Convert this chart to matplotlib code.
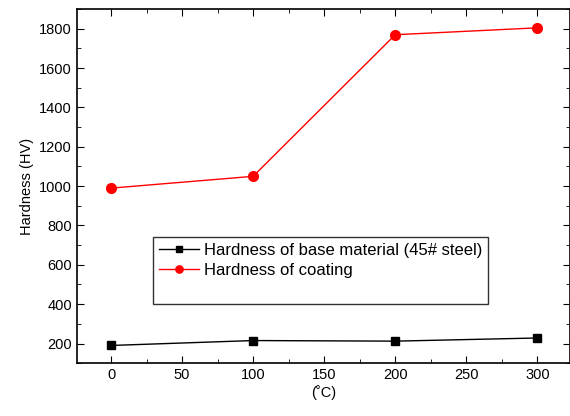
import matplotlib
matplotlib.use('Agg')
import matplotlib.pyplot as plt
from matplotlib.ticker import MultipleLocator

plt.rcParams['font.family'] = ['Liberation Sans', 'DejaVu Sans']

# данные
temps = [0, 100, 200, 300]
base_hv = [190, 215, 212, 228]
coating_hv = [990, 1050, 1770, 1805]

fig = plt.figure(figsize=(5.7, 4.16), dpi=100)
ax = fig.add_axes([0.135, 0.127, 0.865, 0.851])

ax.plot(temps, base_hv, '-s', color='black', lw=1, ms=6,
        label='Hardness of base material (45# steel)')
ax.plot(temps, coating_hv, '-o', color='red', lw=1, ms=7,
        label='Hardness of coating')
# пустая строка в легенде, как в оригинале
ax.plot([], [], color='none', label=' ')

ax.set_xlim(-24, 323)
ax.set_ylim(100, 1900)
ax.xaxis.set_major_locator(MultipleLocator(50))
ax.xaxis.set_minor_locator(MultipleLocator(25))
ax.yaxis.set_minor_locator(MultipleLocator(100))
ax.set_yticks([200, 400, 600, 800, 1000, 1200, 1400, 1600, 1800])

ax.tick_params(which='both', direction='in', top=True, right=True, labelsize=10.5)
ax.tick_params(which='major', length=5)
ax.tick_params(which='minor', length=3)
for s in ax.spines.values():
    s.set_linewidth(1.2)

ax.set_xlabel('(˚C)', fontsize=10.5, labelpad=2)
ax.set_ylabel('Hardness (HV)', fontsize=10.5)

leg = ax.legend(loc='upper left', bbox_to_anchor=(0.154, 0.356), fontsize=12,
                frameon=True, fancybox=False, edgecolor='black',
                handlelength=2.4, borderpad=0.35, labelspacing=0.3,
                handletextpad=0.3, markerscale=0.75, borderaxespad=0)
leg.get_frame().set_linewidth(1)

fig.savefig('out.png', dpi=100)
